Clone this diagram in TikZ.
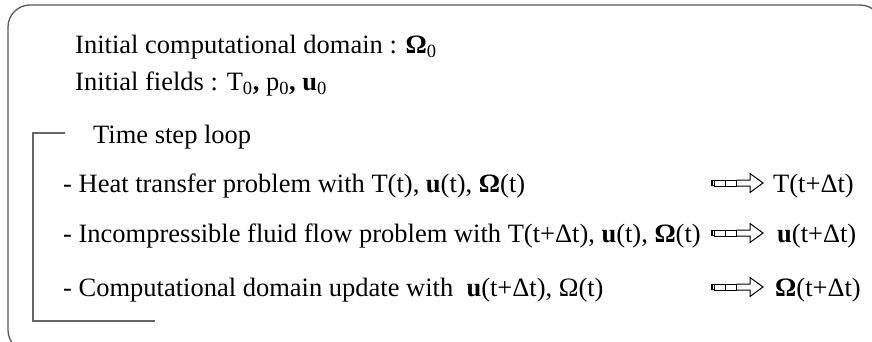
\documentclass[tikz,border=0pt]{standalone}
\usepackage{fontspec}
\setmainfont{Liberation Serif}
\begin{document}
\begin{tikzpicture}[x=1pt,y=-1pt,
  txt/.style={anchor=base west,inner sep=0pt,font=\fontsize{26.5}{30}\selectfont},
  frame/.style={draw=black!65,line width=1.3pt,rounded corners=22pt},
  loopline/.style={draw=black!60,line width=1.3pt},
  flowarrow/.pic={
    \draw[line width=1.5pt] (0,-2.5) rectangle (2.5,2.5);
    \draw[line width=1pt] (2.5,-3) rectangle (13.5,3);
    \draw[line width=1pt] (13.5,-3) rectangle (24.5,3);
    \draw[line width=1pt,line join=miter] (24.5,-3) -- (38,-3) -- (38,-9.5) -- (51,0) -- (38,9.5) -- (38,3) -- (24.5,3);
  }]
\useasboundingbox (0,0) rectangle (872,342);
\clip (0,0) rectangle (872,342);
\draw[frame] (8,5) rectangle (882,352);
\node[txt] (dom) at (75,54) {Initial computational domain : \textbf{Ω}\textsubscript{0}};
\node[txt] (fld) at (75,91) {Initial fields : T\textsubscript{0}\textbf{,} p\textsubscript{0}\textbf{,} \textbf{u}\textsubscript{0}};
\node[txt] (loop) at (93,143) {Time step loop};
\node[txt] (heat) at (63,192) {- Heat transfer problem with T(t), \textbf{u}(t), \textbf{Ω}(t)};
\node[txt] (flow) at (63,242) {- Incompressible fluid flow problem with T(t+Δt), \textbf{u}(t), \textbf{Ω}(t)};
\node[txt] (upd) at (63,296) {- Computational domain update with \ \textbf{u}(t+Δt), Ω(t)};
\node[txt] (rT) at (773,192) {T(t+Δt)};
\node[txt] (ru) at (777,242) {\textbf{u}(t+Δt)};
\node[txt] (rO) at (775,296) {\textbf{Ω}(t+Δt)};
\coordinate (tl) at (33,133);
\coordinate (tr) at (65,133);
\coordinate (bl) at (33,321);
\coordinate (br) at (155,321);
\draw[loopline] (tr) -- (tl) -- (bl) -- (br);
\pic at (712,183) {flowarrow};
\pic at (712,233) {flowarrow};
\pic at (712,287) {flowarrow};
\end{tikzpicture}
\end{document}
